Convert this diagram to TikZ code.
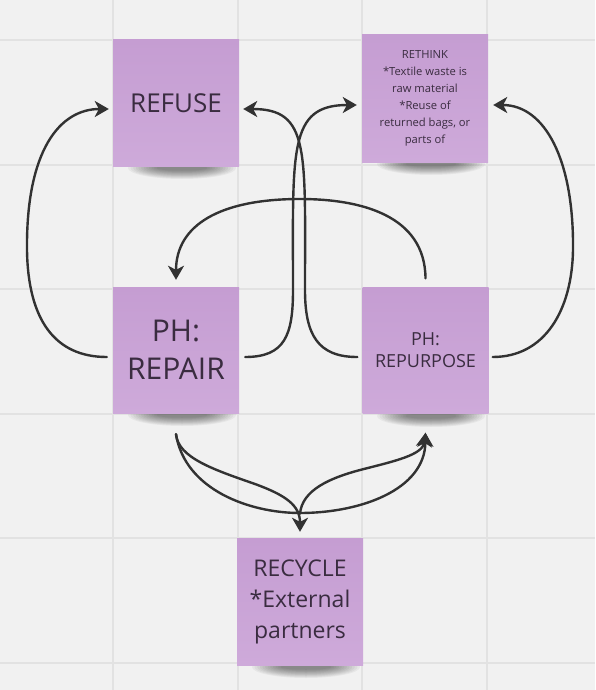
\documentclass[tikz,border=0pt]{standalone}
\usepackage{fontspec}
\setmainfont{Open Sans}
\usetikzlibrary{arrows.meta}

\definecolor{board}{HTML}{F1F1F1}
\definecolor{gridline}{HTML}{E2E2E2}
\definecolor{notetop}{HTML}{C59DD2}
\definecolor{notebot}{HTML}{CEAADA}
\definecolor{ink}{HTML}{3A2C40}
\definecolor{pen}{HTML}{323232}

\tikzset{
  note/.style={rectangle, minimum width=126pt, minimum height=126pt, inner sep=0pt,
    top color=notetop, bottom color=notebot, text=ink, align=center},
  flow/.style={draw=pen, line width=2.4pt, line cap=round,
    -{Stealth[length=14pt,width=16pt,inset=4pt]}},
}

% soft shadow under a sticky note: centre x, bottom edge y
\newcommand\noteshadow[2]{%
  \foreach \k in {0,...,11}{%
    \fill[black, opacity=0.045] (#1+6, #2+2) ellipse ({54-\k*2.6} and {11-\k*0.75});
  }%
}

\begin{document}
\begin{tikzpicture}[x=1pt, y=-1pt]
  % board and grid
  \useasboundingbox (0,0) rectangle (595,690);
  \fill[board] (0,0) rectangle (595,690);
  \foreach \gx in {113,238,362,487}
    \draw[gridline, line width=1.4pt] (\gx,0) -- (\gx,690);
  \foreach \gy in {40,165,289,414,538,663}
    \draw[gridline, line width=1.4pt] (0,\gy) -- (595,\gy);

  % shadows beneath the notes
  \noteshadow{176}{166}
  \noteshadow{425}{162}
  \noteshadow{176}{413}
  \noteshadow{425}{414}
  \noteshadow{300}{665}

  % sticky notes
  \node[note, font=\fontsize{26}{30}\selectfont] (refuse) at (176,103) {REFUSE};
  \node[note, minimum height=127pt, font=\fontsize{11.2}{17}\selectfont] (rethink) at (425,98.5)
    {RETHINK\\*Textile waste is\\raw material\\*Reuse of\\returned bags, or\\parts of};
  \node[note, font=\fontsize{30}{38}\selectfont] (repair) at (176,350) {PH:\\REPAIR};
  \node[note, font=\fontsize{18}{22}\selectfont] (repurpose) at (425.5,350.5) {PH:\\REPURPOSE};
  \node[note, minimum height=127pt, font=\fontsize{23}{31}\selectfont] (recycle) at (300,601.5)
    {RECYCLE\\*External\\partners};

  % loops up to the top row
  \draw[flow] ([shift={(-6,7)}]repair.west) .. controls (55,357) and (28,320) .. (27,250)
    .. controls (26,150) and (60,109) .. ([shift={(-4,6)}]refuse.west);
  \draw[flow] ([shift={(6,7)}]repair.east) .. controls (285,357) and (293,335) .. (293,290)
    .. controls (293,150) and (288,105) .. ([shift={(-5,6.5)}]rethink.west);
  \draw[flow] ([shift={(-5,6.5)}]repurpose.west) .. controls (318,357) and (305,335) .. (305,290)
    .. controls (305,150) and (310,109) .. ([shift={(4,6)}]refuse.east);
  \draw[flow] ([shift={(4,6.5)}]repurpose.east) .. controls (545,357) and (572,310) .. (573,250)
    .. controls (574,160) and (545,105) .. ([shift={(5,6.5)}]rethink.east);

  % repurpose back to repair over the top
  \draw[flow] ([shift={(0,-9)}]repurpose.north) .. controls (425,215) and (360,199) .. (300,199)
    .. controls (220,199) and (176,225) .. ([shift={(0,-7)}]repair.north);

  % lower exchanges
  \draw[flow] ([shift={(0,21)}]repair.south) .. controls (178,458) and (215,470) .. (255,484)
    .. controls (285,495) and (300,505) .. ([shift={(0,-6)}]recycle.north);
  \draw[flow] ([shift={(0,21)}]repair.south) .. controls (185,490) and (250,513) .. (300,513)
    .. controls (360,513) and (425,490) .. ([shift={(0,19)}]repurpose.south);
  \draw[flow] ([shift={(0,-24)}]recycle.north) .. controls (302,490) and (330,478) .. (360,470)
    .. controls (395,461) and (423,455) .. ([shift={(0,19)}]repurpose.south);
\end{tikzpicture}
\end{document}
